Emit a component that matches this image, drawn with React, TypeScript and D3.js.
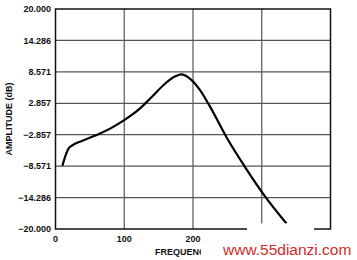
import React from "react";
import * as d3 from "d3";

const freq = [10, 20, 40, 60, 80, 100, 120, 140, 160, 175, 183, 195, 210, 225, 250, 275, 305, 336];
const amp = [-8.5, -5.2, -3.9, -2.9, -1.7, -0.2, 1.6, 4.0, 6.5, 7.8, 8.1, 7.4, 5.3, 2.2, -3.6, -8.6, -14.1, -19.0];
const yTicks = [20, 14.286, 8.571, 2.857, -2.857, -8.571, -14.286, -20];
const yTickLabels = ["20.000", "14.286", "8.571", "2.857", "\u22122.857", "\u22128.571", "\u221214.286", "\u221220.000"];
const xTicks = [0, 100, 200, 300, 400];
// labels for 300 and 400 are hidden under the watermark in the reference
const xTickLabels = ["0", "100", "200"];

const W = 357, H = 260;
const L = 55.5, R = 330.5, T = 9, B = 229;
const font = "'Liberation Sans', Arial, sans-serif";

export default function App() {
  const x = d3.scaleLinear().domain([0, 400]).range([L, R]);
  const y = d3.scaleLinear().domain([-20, 20]).range([B, T]);
  const line = d3.line<number>().x((_, i) => x(freq[i])).y((d) => y(d)).curve(d3.curveMonotoneX);
  return (
    <svg width={W} height={H} style={{ position: "absolute", left: 0, top: 0, background: "#fff" }}>
      <defs>
        <clipPath id="wm">
          <rect x={0} y={0} width={201} height={H} />
        </clipPath>
      </defs>
      <rect x={0} y={0} width={W} height={H} fill="#fff" />
      {yTicks.slice(1, -1).map((t) => (
        <line key={"gy" + t} x1={L} x2={R} y1={y(t)} y2={y(t)} stroke="#555" strokeWidth={1.2} />
      ))}
      {xTicks.slice(1, -1).map((t) => (
        <line key={"gx" + t} x1={x(t)} x2={x(t)} y1={T} y2={B} stroke="#555" strokeWidth={1.2} />
      ))}
      <rect x={L} y={T} width={R - L} height={B - T} fill="none" stroke="#111" strokeWidth={1.5} />
      <path d={line(amp) || ""} fill="none" stroke="#000" strokeWidth={2.2} strokeLinejoin="round" />
      {yTicks.map((t, i) => (
        <text key={"yl" + t} x={51} y={y(t) + 3.2} textAnchor="end" fontFamily={font} fontWeight="bold" fontSize={9} fill="#111">
          {yTickLabels[i]}
        </text>
      ))}
      {xTickLabels.map((lab, i) => (
        <text key={"xl" + lab} x={x(xTicks[i])} y={242} textAnchor="middle" fontFamily={font} fontWeight="bold" fontSize={9} fill="#111" clipPath="url(#wm)">
          {lab}
        </text>
      ))}
      <text x={193} y={255} textAnchor="middle" fontFamily={font} fontWeight="bold" fontSize={9} fill="#111" clipPath="url(#wm)">
        FREQUENCY (Hz)
      </text>
      <text transform={`translate(12,${(T + B) / 2}) rotate(-90)`} textAnchor="middle" fontFamily={font} fontWeight="bold" fontSize={9} fill="#111">
        AMPLITUDE (dB)
      </text>
      <rect x={201} y={231} width={W - 201} height={H - 231} fill="#fff" />
      <rect x={247} y={223.5} width={67} height={10} fill="#fff" />
      <text x={223} y={255} fontFamily={font} fontSize={15.5} fill="#d42a2a">
        www.55dianzi.com
      </text>
    </svg>
  );
}
